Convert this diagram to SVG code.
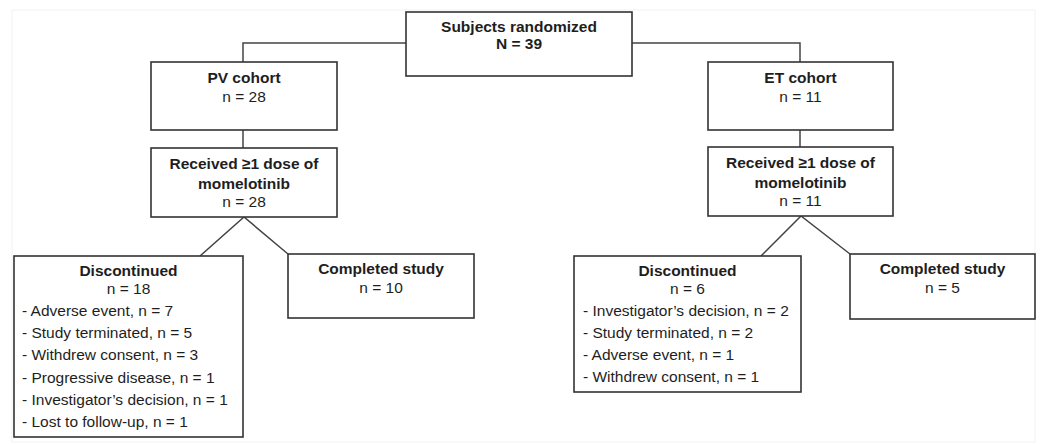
<svg xmlns="http://www.w3.org/2000/svg" width="1050" height="444" viewBox="0 0 1050 444">
<style>
.box{fill:#fff;stroke:#333;stroke-width:1.6}
.ln{fill:none;stroke:#444;stroke-width:1.5}
text{font-family:"Liberation Sans",Arial,sans-serif;font-size:15.5px;fill:#1e1e1e}
.b{font-weight:bold}
.c{text-anchor:middle}
</style>
<rect x="0" y="0" width="1050" height="444" fill="#fff"/>
<rect x="12" y="10" width="1023" height="432" fill="none" stroke="#f2f2f2" stroke-width="1"/>
<g id="connectors">
<polyline class="ln" points="406,43 243,43 243,62"/>
<polyline class="ln" points="632,43 800,43 800,62"/>
<line class="ln" x1="243" y1="130" x2="243" y2="148"/>
<line class="ln" x1="800" y1="130" x2="800" y2="148"/>
<polyline class="ln" points="200,256 244,217 288,254"/>
<polyline class="ln" points="761,256 801,216 850,254"/>
</g>
<g id="randomized">
<rect class="box" x="406" y="12" width="226" height="64"/>
<text class="b c" x="519" y="31.5">Subjects randomized</text>
<text class="b c" x="519" y="48.5">N = 39</text>
</g>
<g id="pv-cohort">
<rect class="box" x="151" y="62" width="186" height="68"/>
<text class="b c" x="244" y="82.5">PV cohort</text>
<text class="c" x="244" y="102">n = 28</text>
</g>
<g id="pv-received">
<rect class="box" x="151" y="148" width="186" height="69"/>
<text class="b c" x="244" y="168.5">Received ≥1 dose of</text>
<text class="b c" x="244" y="188.5">momelotinib</text>
<text class="c" x="244" y="206.5">n = 28</text>
</g>
<g id="pv-discontinued">
<rect class="box" x="14" y="256" width="229" height="181"/>
<text class="b c" x="128.5" y="275.5">Discontinued</text>
<text class="c" x="128.5" y="293.5">n = 18</text>
<text x="22" y="316">- Adverse event, n = 7</text>
<text x="22" y="338">- Study terminated, n = 5</text>
<text x="22" y="360">- Withdrew consent, n = 3</text>
<text x="22" y="382.5">- Progressive disease, n = 1</text>
<text x="22" y="405">- Investigator’s decision, n = 1</text>
<text x="22" y="427">- Lost to follow-up, n = 1</text>
</g>
<g id="pv-completed">
<rect class="box" x="288" y="254" width="186" height="64"/>
<text class="b c" x="381" y="273.5">Completed study</text>
<text class="c" x="381" y="292.5">n = 10</text>
</g>
<g id="et-cohort">
<rect class="box" x="708" y="62" width="185" height="68"/>
<text class="b c" x="800.5" y="82.5">ET cohort</text>
<text class="c" x="800.5" y="102">n = 11</text>
</g>
<g id="et-received">
<rect class="box" x="708" y="147" width="185" height="69"/>
<text class="b c" x="800.5" y="167.5">Received ≥1 dose of</text>
<text class="b c" x="800.5" y="187.5">momelotinib</text>
<text class="c" x="800.5" y="205.5">n = 11</text>
</g>
<g id="et-discontinued">
<rect class="box" x="574" y="256" width="227" height="136"/>
<text class="b c" x="687.5" y="275.5">Discontinued</text>
<text class="c" x="687.5" y="293.5">n = 6</text>
<text x="583" y="316">- Investigator’s decision, n = 2</text>
<text x="583" y="338">- Study terminated, n = 2</text>
<text x="583" y="360">- Adverse event, n = 1</text>
<text x="583" y="382">- Withdrew consent, n = 1</text>
</g>
<g id="et-completed">
<rect class="box" x="850" y="254" width="185" height="65"/>
<text class="b c" x="942.5" y="273.5">Completed study</text>
<text class="c" x="942.5" y="292.5">n = 5</text>
</g>
</svg>
